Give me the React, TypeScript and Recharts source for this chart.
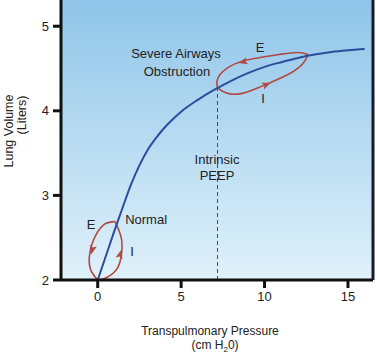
import React from "react";
import {
  ComposedChart,
  Line,
  Scatter,
  XAxis,
  YAxis,
  ReferenceArea,
  ReferenceLine,
  ReferenceDot,
} from "recharts";

// pressure-volume curve (cm H2O vs liters)
const pressure = [0, 0.5, 1, 1.5, 2, 2.5, 3, 3.5, 4, 4.5, 5, 6, 7, 8, 9, 10, 11, 12, 13, 14, 15, 16];
const volume = [2.0, 2.29, 2.58, 2.86, 3.13, 3.355, 3.54, 3.68, 3.8, 3.9, 3.99, 4.13, 4.25, 4.355, 4.445, 4.52, 4.575, 4.625, 4.665, 4.695, 4.715, 4.73];

// normal breathing loop
const normalExpX = [1.04, 0.34, -0.26, -0.5, -0.42, 0];
const normalExpY = [2.69, 2.65, 2.47, 2.28, 2.12, 2.0];
const normalInspX = [0, 0.54, 1.18, 1.44, 1.4, 1.04];
const normalInspY = [2.0, 2.03, 2.14, 2.33, 2.51, 2.69];

// severe airways obstruction loop
const severeExpX = [12.6, 12.0, 11.0, 10.0, 8.7, 7.8, 7.3, 7.14, 7.18];
const severeExpY = [4.665, 4.69, 4.67, 4.64, 4.59, 4.51, 4.42, 4.34, 4.275];
const severeInspX = [7.18, 7.6, 8.5, 9.7, 10.3, 11.6, 12.35, 12.6];
const severeInspY = [4.275, 4.22, 4.2, 4.28, 4.33, 4.45, 4.57, 4.665];

// arrow heads on the loops (angle in screen degrees)
const arrowX = [-0.32, 1.34, 8.73, 10.1];
const arrowY = [2.36, 2.3, 4.58, 4.31];
const arrowAngle = [104, -75, 166, -23];

const intrinsicPeep = 7.18;
const peepVolume = 4.27;

const xTicks = [0, 5, 10, 15];
const yTicks = [2, 3, 4, 5];

const zip = (xs: number[], ys: number[]) => xs.map((x, i) => ({ x, y: ys[i] }));

const curveData = zip(pressure, volume);
const normalExp = zip(normalExpX, normalExpY);
const normalInsp = zip(normalInspX, normalInspY);
const severeExp = zip(severeExpX, severeExpY);
const severeInsp = zip(severeInspX, severeInspY);
const arrows = arrowX.map((x, i) => ({ x, y: arrowY[i], angle: arrowAngle[i] }));

const FONT = "'Liberation Sans', Arial, sans-serif";
const TEXT = "#222";
const BLUE = "#2c4d9c";
const RED = "#b04a45";
const AXIS = "#111";

const ArrowHead = (props: any) => {
  const { cx, cy, payload } = props;
  if (cx == null || cy == null) return null;
  return (
    <path
      d="M5,0 L-4,-3.6 L-2,0 L-4,3.6 Z"
      fill={RED}
      transform={`translate(${cx},${cy}) rotate(${payload.angle})`}
    />
  );
};

const notes = [
  { x: 4.69, y: 4.68, text: "Severe Airways" },
  { x: 4.75, y: 4.47, text: "Obstruction" },
  { x: 9.73, y: 4.75, text: "E" },
  { x: 9.91, y: 4.15, text: "I" },
  { x: 7.15, y: 3.43, text: "Intrinsic" },
  { x: 7.15, y: 3.24, text: "PEEP" },
  { x: 2.9, y: 2.72, text: "Normal" },
  { x: -0.4, y: 2.66, text: "E" },
  { x: 2.06, y: 2.34, text: "I" },
];

const XTitle = (props: any) => {
  const vb = props.viewBox || { x: 61, y: 280, width: 312 };
  const cx = vb.x + vb.width / 2;
  return (
    <g fontFamily={FONT} fontSize={12} fill={TEXT}>
      <text x={cx - 7} y={335} textAnchor="middle">
        Transpulmonary Pressure
      </text>
      <text x={cx - 2} y={349} textAnchor="middle">
        (cm H<tspan dy={2.5} fontSize={8}>2</tspan>
        <tspan dy={-2.5}>0)</tspan>
      </text>
    </g>
  );
};

const YTitle = () => (
  <g fontFamily={FONT} fontSize={12.5} fill={TEXT}>
    <text transform="translate(13,131) rotate(-90)" textAnchor="middle">
      Lung Volume
    </text>
    <text transform="translate(26,115) rotate(-90)" textAnchor="middle">
      (Liters)
    </text>
  </g>
);

export default function App() {
  return (
    <div style={{ position: "absolute", left: 0, top: 0 }}>
      <ComposedChart width={377} height={355} margin={{ top: 0, right: 4, bottom: 0, left: 0 }}>
        <defs>
          <linearGradient id="bgGrad" x1="0" y1="0" x2="0" y2="1">
            <stop offset="0%" stopColor="#8fc5e9" />
            <stop offset="100%" stopColor="#e0f1fa" />
          </linearGradient>
        </defs>
        <XAxis
          type="number"
          dataKey="x"
          domain={[-2.2, 16.5]}
          ticks={xTicks}
          allowDataOverflow
          height={75}
          tickSize={8}
          tickMargin={4}
          axisLine={{ stroke: AXIS, strokeWidth: 3 }}
          tickLine={{ stroke: AXIS, strokeWidth: 3 }}
          tick={{ fill: TEXT, fontSize: 13, fontFamily: FONT }}
          label={<XTitle />}
        />
        <YAxis
          type="number"
          dataKey="y"
          domain={[2, 5.31]}
          ticks={yTicks}
          allowDataOverflow
          width={61}
          tickSize={8}
          tickMargin={4}
          axisLine={{ stroke: AXIS, strokeWidth: 3 }}
          tickLine={{ stroke: AXIS, strokeWidth: 3 }}
          tick={{ fill: TEXT, fontSize: 13, fontFamily: FONT }}
          label={<YTitle />}
        />
        <ReferenceArea x1={-2.2} x2={16.5} y1={2} y2={5.31} fill="url(#bgGrad)" fillOpacity={1} stroke="none" />
        <ReferenceLine x={16.5} stroke="#1a1a2a" strokeWidth={3} />
        <ReferenceLine
          segment={[
            { x: intrinsicPeep, y: 2 },
            { x: intrinsicPeep, y: peepVolume },
          ]}
          stroke={BLUE}
          strokeWidth={1}
          strokeDasharray="4 3"
        />
        <Line data={normalExp} dataKey="y" type="natural" stroke={RED} strokeWidth={1.6} dot={false} isAnimationActive={false} />
        <Line data={normalInsp} dataKey="y" type="natural" stroke={RED} strokeWidth={1.6} dot={false} isAnimationActive={false} />
        <Line data={severeExp} dataKey="y" type="natural" stroke={RED} strokeWidth={1.6} dot={false} isAnimationActive={false} />
        <Line data={severeInsp} dataKey="y" type="natural" stroke={RED} strokeWidth={1.6} dot={false} isAnimationActive={false} />
        <Line data={curveData} dataKey="y" type="monotone" stroke={BLUE} strokeWidth={2} dot={false} isAnimationActive={false} />
        <Scatter data={arrows} dataKey="y" shape={<ArrowHead />} isAnimationActive={false} />
        {notes.map((n, i) => (
          <ReferenceDot
            key={i}
            x={n.x}
            y={n.y}
            r={0}
            stroke="none"
            fill="none"
            label={{ value: n.text, position: "center", fill: TEXT, fontSize: 13, fontFamily: FONT }}
          />
        ))}
      </ComposedChart>
    </div>
  );
}
